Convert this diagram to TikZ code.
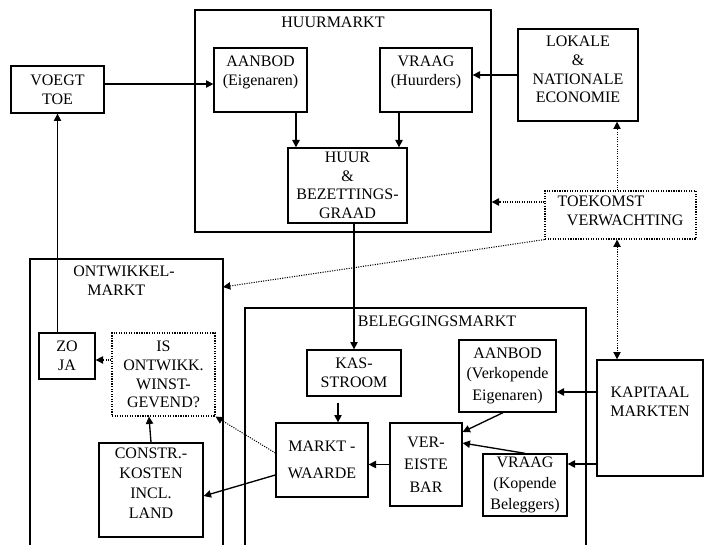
\documentclass[tikz,border=0pt]{standalone}
\usepackage{fontspec}
\setmainfont{Liberation Serif}
\usetikzlibrary{arrows.meta}

\begin{document}
\begin{tikzpicture}[x=0.75pt, y=-0.75pt,
    every node/.style={font=\fontsize{12}{14}\selectfont, inner sep=2pt},
    boxsize/.style 2 args={minimum width=#1*0.75pt, minimum height=#2*0.75pt},
    box/.style={draw, rectangle, align=center, line width=1pt},
    dotbox/.style={draw, rectangle, align=center, densely dotted, line width=0.9pt},
    arr/.style={line width=1pt, -{Triangle[length=5.5pt,width=5.5pt]}},
    dotarr/.style={densely dotted, line width=0.8pt, -{Triangle[length=5.5pt,width=5.5pt]}}]
    \useasboundingbox (0,0) rectangle (709,545);
    % Frames
    \node[box, boxsize={296}{222}] (huurmarkt) at (343,121) {};
    \node (huurtitel) at (333,22) {HUURMARKT};
    \draw[line width=1pt] (30,545) |- (223,259) -- (223,545);
    \coordinate (ontwR) at (223,287);
    \node[align=left, anchor=west] (ontwtitel) at (70.5,280.5) {ONTWIKKEL-\\\hspace*{10.5pt}MARKT};
    \draw[line width=1pt] (245,545) |- (586,308) -- (586,545);
    \node (belegtitel) at (437,321) {BELEGGINGSMARKT};
    % Huurmarkt
    \node[box, boxsize={93}{64}] (aanbodH) at (260.5,80) {AANBOD\\(Eigenaren)\\~};
    \node[box, boxsize={92}{64}] (vraagH) at (426,80) {VRAAG\\(Huurders)\\~};
    \node[box, boxsize={119}{75}] (huur) at (347.5,185.5) {HUUR\\\&\\BEZETTINGS-\\GRAAD};
    % Outside
    \node[box, boxsize={93}{47}] (voegt) at (57.5,89.5) {VOEGT\\TOE};
    \node[box, boxsize={120}{92}] (lokale) at (578,75) {LOKALE\\\&\\NATIONALE\\ECONOMIE\\[-6pt]~};
    \node[dotbox, boxsize={151}{48}, align=left] (toekomst) at (620.5,215) {TOEKOMST\\\hspace*{7pt}VERWACHTING\\[-8pt]~};
    \node[box, boxsize={106}{116}] (kapitaal) at (650,418) {KAPITAAL\\MARKTEN\\~\\[-4pt]~};
    % Ontwikkelmarkt
    \node[box, boxsize={56}{46}] (zoja) at (67,356) {ZO\\JA};
    \node[dotbox, boxsize={103}{83}] (winst) at (163.5,374.5) {IS\\ONTWIKK.\\WINST-\\GEVEND?};
    \node[box, boxsize={104}{94}] (constr) at (151,490) {CONSTR.-\\[1pt]KOSTEN\\[1pt]INCL.\\[1pt]LAND\\[-4pt]~};
    % Beleggingsmarkt
    \node[box, boxsize={94}{46}] (kas) at (354,373) {KAS-\\STROOM};
    \node[box, boxsize={92}{74}] (marktw) at (322,460) {MARKT -\\[6pt]WAARDE};
    \node[box, boxsize={72}{83}] (vereist) at (426,464.5) {VER-\\[3pt]EISTE\\[3pt]BAR};
    \node[box, boxsize={97}{72}] (aanbodB) at (507.5,376) {AANBOD\\[1pt](Verkopende\\[2pt]Eigenaren)};
    \node[box, boxsize={84}{62}] (vraagB) at (525,485) {VRAAG\\[2pt](Kopende\\[2pt]Beleggers)};
    % Arrows huurmarkt
    \draw[arr] ([yshift=4.1pt]voegt.east) -- ([yshift=4.1pt]voegt.east -| aanbodH.west);
    \draw[arr] ([xshift=26.6pt]aanbodH.south) -- ([xshift=26.6pt]aanbodH.south |- huur.north);
    \draw[arr] ([xshift=-20.25pt]vraagH.south) -- ([xshift=-20.25pt]vraagH.south |- huur.north);
    \draw[arr] (lokale.west) -- (lokale.west -| vraagH.east);
    % Toekomst verwachting
    \draw[dotarr] ([xshift=-2.6pt]toekomst.north) -- ([xshift=-2.6pt]toekomst.north |- lokale.south);
    \draw[dotarr] ([yshift=9.75pt]toekomst.west) -- ([yshift=9.75pt]toekomst.west -| huurmarkt.east);
    \draw[dotarr] (toekomst.south west) -- (ontwR);
    \draw[dotarr, {Triangle[length=5.5pt,width=5.5pt]}-{Triangle[length=5.5pt,width=5.5pt]}] ([xshift=-2.6pt]toekomst.south) -- ([xshift=-2.6pt]toekomst.south |- kapitaal.north);
    % Beleggingsmarkt
    \draw[arr] (kas.north |- huur.south) -- (kas.north);
    \draw[arr, shorten <=4.5pt] ([xshift=-12pt]kas.south) -- ([xshift=-12pt]kas.south |- marktw.north);
    \draw[arr] (vereist.west) -- (vereist.west -| marktw.east);
    \draw[arr] (aanbodB.south) ++(-3.4pt,0) -- ([yshift=24.4pt]vereist.east);
    \draw[arr] (vraagB.north) -- ([yshift=16.1pt]vereist.east);
    \draw[arr] ([yshift=19.5pt]kapitaal.west) -- ([yshift=19.5pt]kapitaal.west -| aanbodB.east);
    \draw[arr] ([yshift=-34.5pt]kapitaal.west) -- ([yshift=-34.5pt]kapitaal.west -| vraagB.east);
    % Ontwikkelmarkt
    \draw[arr] ([yshift=-11.25pt]marktw.west) -- ([yshift=-4.5pt]constr.east);
    \draw[dotarr] ([yshift=5.25pt]marktw.west) -- (winst.south east);
    \draw[arr] (constr.north) -- ([xshift=-10.9pt]winst.south);
    \draw[dotarr] ([yshift=10.9pt]winst.west) -- ([yshift=10.9pt]winst.west -| zoja.east);
    \draw[arr] (voegt.south |- zoja.north) -- (voegt.south);
\end{tikzpicture}
\end{document}
